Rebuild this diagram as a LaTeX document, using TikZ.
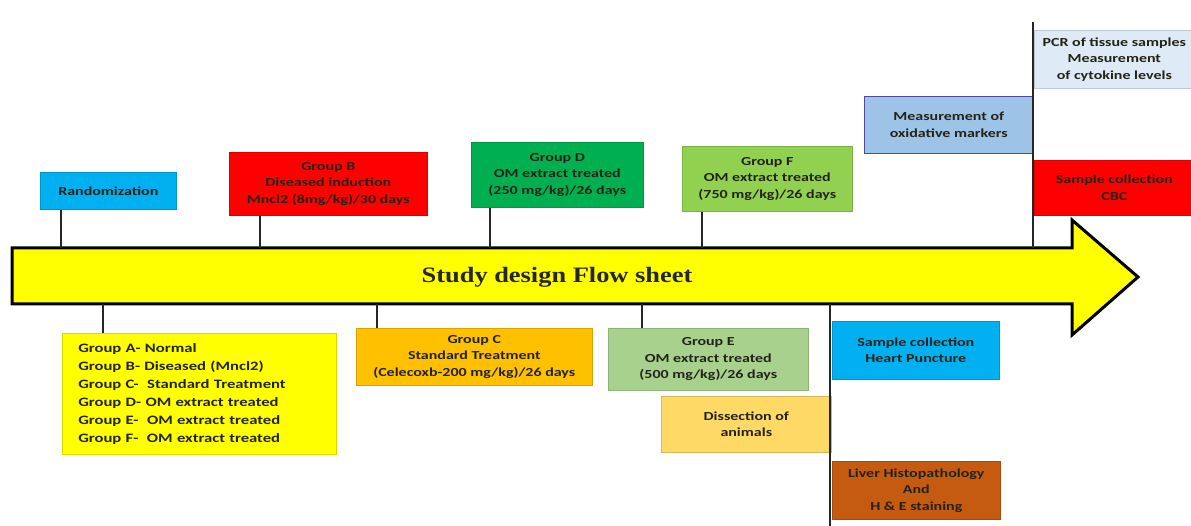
\documentclass[tikz,border=0pt]{standalone}
\usepackage{fontspec}
\setmainfont{Carlito}[FakeStretch=1.3]
\newfontfamily\titlefont{Liberation Serif}[FakeStretch=1.2]
\definecolor{cyanbox}{RGB}{0,176,240}
\definecolor{redbox}{RGB}{255,0,0}
\definecolor{greenD}{RGB}{0,176,80}
\definecolor{greenF}{RGB}{146,208,80}
\definecolor{greenE}{RGB}{169,209,142}
\definecolor{bluemeas}{RGB}{157,195,230}
\definecolor{bluepcr}{RGB}{222,235,247}
\definecolor{orangeC}{RGB}{255,192,0}
\definecolor{yellowdis}{RGB}{255,217,102}
\definecolor{brownliv}{RGB}{197,90,17}
\definecolor{arrowyellow}{RGB}{255,255,0}
\definecolor{txt}{RGB}{35,35,25}
\begin{document}
\begin{tikzpicture}[x=1pt,y=-1pt,
  box/.style={draw=#1!85!black, line width=0.6pt, fill=#1, anchor=north west, inner sep=1pt,
     align=center, font=\bfseries\fontsize{12.3}{16.5}\selectfont, text=txt},
  tick/.style={line width=1.8pt, draw=black!85}]
\useasboundingbox (0,0) rectangle (1191,526);
% main arrow
\draw[line width=3pt, fill=arrowyellow, line join=miter]
  (12,248) -- (1072,248) -- (1072,220) -- (1138,277) -- (1072,335) -- (1072,304) -- (12,304) -- cycle;
\node[font=\titlefont\bfseries\fontsize{22}{24}\selectfont, text=black!85] (title) at (557,277) {Study design Flow sheet};
% coordinates on arrow
\foreach \n/\x in {t1/61,t2/260,t3/490,t4/702,t5/1033}{\coordinate (\n) at (\x,248);}
\foreach \n/\x in {b1/103,b2/377,b3/642,b4/830}{\coordinate (\n) at (\x,304);}
% top boxes
\node[box=cyanbox, minimum width=136pt, minimum height=37pt] (rand) at (40,172) {Randomization};
\node[box=redbox, minimum width=198pt, minimum height=63pt] (gb) at (229,152) {Group B\\Diseased induction\\Mncl2 (8mg/kg)/30 days};
\node[box=greenD, minimum width=172pt, minimum height=65pt] (gd) at (471,142) {Group D\\OM extract treated\\(250 mg/kg)/26 days};
\node[box=greenF, minimum width=170pt, minimum height=65pt] (gf) at (682,146) {Group F\\OM extract treated\\(750 mg/kg)/26 days};
\node[box=bluemeas, draw=blue!45!black!70, minimum width=169pt, minimum height=57pt] (meas) at (864,96) {Measurement of\\oxidative markers};
\node[box=bluepcr, minimum width=160pt, minimum height=58pt] (pcr) at (1034,30) {PCR of tissue samples\\Measurement\\of cytokine levels};
\node[box=redbox, minimum width=160pt, minimum height=55pt] (cbc) at (1034,160) {Sample collection\\CBC};
% bottom boxes
\node[box=arrowyellow, minimum height=121pt, align=left, inner xsep=16pt, inner ysep=0pt, text width=242pt,
      font=\bfseries\fontsize{12.8}{18}\selectfont] (groups) at (62,333)
  {Group A- Normal\\Group B- Diseased (Mncl2)\\Group C-\ \ Standard Treatment\\Group D- OM extract treated\\Group E-\ \ OM extract treated\\Group F-\ \ OM extract treated};
\node[box=orangeC, minimum width=236pt, minimum height=57pt] (gc) at (356,328) {Group C\\Standard Treatment\\(Celecoxb-200 mg/kg)/26 days};
\node[box=greenE, minimum width=200pt, minimum height=62pt] (ge) at (608,328) {Group E\\OM extract treated\\(500 mg/kg)/26 days};
\node[box=yellowdis, minimum width=170pt, minimum height=56pt] (dis) at (661,396) {Dissection of\\animals};
\node[box=cyanbox, minimum width=167pt, minimum height=58pt] (heart) at (832,321) {Sample collection\\Heart Puncture};
\node[box=brownliv, minimum width=168pt, minimum height=58pt] (liv) at (832,461) {Liver Histopathology\\And\\H \& E staining};
% connectors
\draw[tick] (rand.south -| t1) -- (t1);
\draw[tick] (gb.south -| t2) -- (t2);
\draw[tick] (gd.south -| t3) -- (t3);
\draw[tick] (gf.south -| t4) -- (t4);
\coordinate (topend) at (1033,22);
\draw[tick] (topend) -- (t5);
\draw[tick] (b1) -- (groups.north -| b1);
\draw[tick] (b2) -- (gc.north -| b2);
\draw[tick] (b3) -- (ge.north -| b3);
\coordinate (botend) at (830,526);
\draw[tick] (b4) -- (botend);
\end{tikzpicture}
\end{document}
